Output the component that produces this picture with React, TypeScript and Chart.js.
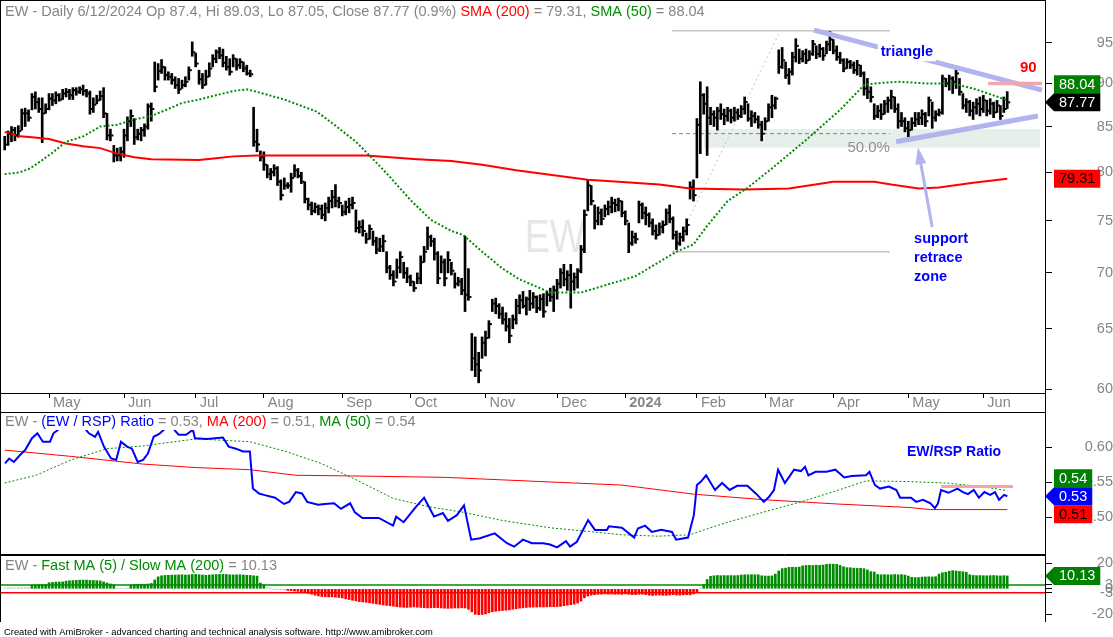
import React, { useEffect, useRef } from 'react';
import { Chart, registerables } from 'chart.js';
Chart.register(...registerables);

const FONT = '"Liberation Sans", Arial, Helvetica, sans-serif';
const GRAY = '#858585';
const GREEN = '#008c00';
const RED = '#ff0000';
const BLUE = '#0000ff';
const LAVENDER = '#b3b3f0';
const PINK = '#f5a3ad';

// ---------- x axis (bar index) ----------
const X_MIN = -1.08;
const X_MAX = 305.08;
const monthTicks = [13, 35, 56, 76, 99, 119, 141, 162, 182, 203, 223, 243, 265, 287];
const monthLabels = ['May', 'Jun', 'Jul', 'Aug', 'Sep', 'Oct', 'Nov', 'Dec', '2024', 'Feb', 'Mar', 'Apr', 'May', 'Jun'];

// ---------- price pane ----------
const priceTicks = [60, 65, 70, 75, 80, 85, 90, 95];
const lows = [
  82.4,82.9,83.3,83.4,83.8,84.6,85.0,85.6,86.9,87.0,86.6,83.2,86.5,86.9,87.4,87.6,87.9,88.1,88.4,88.1,88.1,88.6,88.8,88.6,88.4,86.4,86.6,87.6,88.0,86.0,83.5,83.4,81.1,81.2,81.2,81.6,83.4,85.0,83.0,83.5,83.4,83.9,84.7,85.6,
  89.0,90.4,91.2,90.4,90.4,89.9,89.4,88.8,89.4,89.6,90.4,93.3,92.0,89.9,89.4,89.8,90.8,92.0,92.5,93.0,92.0,91.6,91.0,92.0,91.6,91.8,91.4,91.0,90.8,
  82.8,82.2,81.2,80.2,79.4,79.2,79.6,78.6,77.1,78.2,78.3,77.9,79.5,79.4,78.8,76.8,76.1,75.6,75.8,75.6,75.2,75.0,75.8,76.3,76.4,76.3,75.5,75.6,75.8,76.2,73.9,73.8,73.5,72.8,73.2,72.6,71.8,72.0,72.0,70.0,69.4,68.8,69.5,70.0,69.5,69.1,68.8,68.3,69.0,69.0,71.0,72.2,72.5,71.2,69.0,70.0,68.8,70.0,69.8,68.6,68.8,68.0,66.5,67.5,61.5,61.0,60.5,62.5,62.7,64.2,66.5,66.3,65.9,65.4,64.8,63.8,65.0,65.4,
  66.3,66.8,66.2,66.6,66.8,66.4,66.6,66.0,67.0,67.4,66.5,67.6,68.6,68.8,68.4,66.8,68.4,68.6,70.0,71.9,76.0,76.6,74.2,74.6,74.6,75.4,75.6,75.8,75.9,76.0,75.4,74.6,71.9,72.6,72.8,74.8,75.2,74.6,74.4,73.6,73.2,73.6,73.8,74.6,74.8,73.2,72.2,72.6,73.0,73.6,77.2,77.0,79.4,82.0,86.4,81.8,85.2,85.0,84.6,85.8,85.2,85.6,85.4,85.6,85.8,86.0,86.4,85.6,85.0,85.4,84.8,83.4,84.6,85.6,86.0,87.0,91.2,
  91.8,90.6,89.9,91.0,92.6,92.4,92.6,92.4,92.8,93.4,93.0,93.2,92.8,93.6,94.0,93.6,92.8,92.4,91.4,91.8,91.8,91.2,91.0,90.8,88.6,88.2,87.8,85.8,86.0,85.8,86.4,86.6,87.0,86.6,84.8,85.0,84.4,83.6,84.6,85.0,85.2,85.2,85.0,86.2,84.8,85.6,86.2,86.4,89.6,89.2,88.8,89.4,88.6,87.0,86.6,86.2,85.8,86.4,86.2,86.6,86.2,86.4,86.0,86.6,85.8,86.6,87.05,
];
const highs = [
  83.9,84.5,85.0,84.9,85.1,87.0,87.1,86.9,88.8,89.0,88.3,88.3,87.6,88.8,88.8,89.0,88.8,89.3,89.4,89.3,89.5,89.5,89.6,89.8,89.3,89.1,88.3,88.6,89.1,89.5,86.5,84.7,82.9,82.6,82.7,84.7,86.1,86.9,85.9,84.7,84.9,85.3,87.6,87.7,
  92.6,92.4,92.9,92.0,91.4,91.2,90.8,90.6,90.4,90.8,92.0,95.1,93.7,91.6,91.2,91.6,92.5,93.5,94.1,94.4,94.2,93.3,93.0,93.5,93.0,93.0,92.6,92.2,91.6,
  87.2,84.7,82.3,82.2,80.8,80.4,80.8,80.6,79.2,79.4,78.9,79.9,80.8,80.4,80.0,79.0,77.3,76.9,76.8,76.6,76.6,76.8,77.4,78.1,78.7,77.4,76.6,77.0,77.3,77.4,76.1,75.0,75.1,73.8,74.6,74.0,73.4,73.3,73.6,72.0,70.7,70.2,71.3,72.0,71.0,70.5,69.8,69.2,70.0,71.6,72.5,74.4,73.6,73.3,72.0,71.6,71.3,72.0,71.0,70.0,69.6,69.5,73.5,70.4,64.6,64.3,63.0,64.3,64.8,65.7,67.6,67.7,67.2,66.9,66.4,65.9,66.2,67.6,
  68.0,68.3,67.8,68.4,68.2,67.9,68.0,68.1,68.3,68.6,68.8,69.4,70.4,70.8,70.2,70.8,70.0,70.4,72.6,76.1,79.2,78.6,76.6,76.4,76.2,76.6,77.0,77.4,77.2,77.3,77.0,76.0,74.8,74.0,73.8,77.0,76.8,76.4,75.8,75.2,74.6,74.8,75.0,76.2,76.6,75.4,74.0,73.8,74.4,75.2,79.0,79.2,85.9,90.2,88.8,89.6,87.2,86.8,87.2,87.6,87.0,87.2,87.0,87.2,87.0,87.4,88.4,87.6,86.8,86.6,86.2,85.6,86.0,87.6,88.6,88.4,94.1,
  94.4,92.6,91.8,93.8,95.5,94.2,94.0,94.2,94.0,95.3,94.6,94.8,94.4,95.2,96.4,95.4,94.6,93.8,93.0,93.0,92.8,92.6,92.8,92.2,91.4,90.6,89.6,87.6,87.4,87.6,88.0,88.4,89.2,88.4,87.6,86.6,86.0,85.6,86.0,86.6,86.6,86.9,86.6,88.4,87.8,86.8,87.0,91.0,90.6,91.0,90.8,92.0,90.6,88.8,88.2,88.0,87.8,88.2,88.4,88.6,88.0,88.2,87.8,88.0,87.4,88.4,89.03,
];
const closes = [
  83.0,84.2,84.6,84.0,84.5,86.5,86.5,86.0,88.4,87.8,87.0,86.5,87.0,88.2,88.0,88.6,88.1,88.8,89.0,88.6,89.2,89.0,89.3,89.1,88.8,87.0,87.5,88.0,88.5,86.5,84.0,84.0,81.8,81.8,82.2,84.0,85.6,86.2,83.8,84.2,84.6,85.0,87.3,87.0,
  89.6,91.5,92.0,91.0,90.8,90.4,89.8,89.3,89.8,90.2,91.6,93.8,92.4,90.5,89.8,90.8,91.8,93.0,93.8,93.4,92.5,92.0,91.4,93.0,92.2,92.6,91.8,91.2,91.1,
  83.3,83.0,81.6,80.8,79.8,80.0,80.4,79.0,77.6,78.6,78.6,79.4,80.2,79.6,79.0,77.2,76.6,76.0,76.4,76.2,75.6,76.3,77.0,77.4,77.0,76.8,75.9,76.4,76.6,76.8,74.3,74.4,74.0,73.2,74.2,73.0,72.2,72.5,73.0,70.5,69.8,69.2,70.5,71.5,70.0,69.6,69.2,68.6,69.5,71.0,72.0,73.4,73.0,71.8,69.5,71.0,69.5,71.2,70.2,69.0,69.2,68.4,68.0,67.8,62.5,62.0,61.5,63.8,64.2,65.4,67.2,67.0,66.3,65.8,65.2,64.4,65.8,67.0,
  67.5,67.0,67.6,67.2,67.8,66.8,67.6,66.5,68.0,67.8,68.4,69.0,70.0,69.4,69.8,69.2,69.6,70.2,72.2,75.6,78.6,77.0,75.0,75.8,75.2,76.2,76.4,76.8,76.6,77.0,75.8,75.0,72.8,73.4,73.2,76.6,75.8,75.6,74.8,74.0,73.6,74.4,74.6,75.8,75.2,73.6,72.8,73.4,74.0,74.6,78.4,77.6,85.2,88.6,87.6,86.0,86.4,86.0,86.8,86.4,86.2,86.8,86.0,86.6,86.2,87.0,87.8,85.9,86.2,85.8,85.2,84.2,85.6,87.2,87.4,88.2,92.0,
  92.8,91.0,91.4,93.2,94.6,93.0,93.6,92.8,93.6,94.8,93.6,94.2,93.4,94.8,95.4,94.0,93.2,92.8,91.8,92.6,92.2,91.6,92.2,91.2,89.4,89.0,88.4,86.2,86.8,86.4,87.6,88.0,88.4,87.0,85.6,85.6,84.8,84.6,85.4,85.8,86.0,86.4,85.6,88.0,86.0,86.4,86.6,90.6,90.0,90.6,90.2,91.2,89.0,87.4,87.8,86.8,87.2,87.6,87.0,88.0,86.8,87.6,86.6,87.4,86.2,87.0,87.77,
];
// [bar index, value]
const sma200Pts = [[0,84.4],[4.5,83.9],[8,83.8],[13,83.6],[18,83.1],[23,82.8],[28,82.6],[33,82.0],[38,81.6],[43,81.4],[57,81.3],[62,81.5],[67,81.7],[74,81.8],[99,81.8],[106,81.8],[121,81.4],[131,81.2],[140,80.8],[150,80.2],[171,79.2],[180,79.0],[192,78.7],[201,78.3],[217,78.2],[230,78.3],[243,79.0],[255,79.0],[260,78.7],[268,78.3],[274,78.4],[284,78.9],[294,79.31]];
const sma50Pts = [[0,79.8],[4.5,80.0],[7.4,80.4],[11,81.3],[14,82.1],[18,83.3],[23,83.9],[28,85.0],[33,85.2],[38,85.8],[43,86.2],[48,87.0],[52,87.7],[57,88.1],[62,88.6],[67,89.1],[71,89.3],[74,89.0],[82,88.1],[91.5,86.7],[97,85.1],[103,83.3],[107,81.8],[113,79.5],[119,77.1],[125,75.1],[131,74.0],[134.5,73.6],[140,72.0],[146,70.4],[151,69.4],[160,68.2],[169,68.2],[175.5,68.8],[185,69.7],[197,72.0],[202,72.7],[206,74.5],[212,77.0],[218,78.4],[225,80.4],[235,83.5],[245,86.9],[252,89.8],[255,90.0],[262,90.2],[270.5,90.0],[278,90.0],[284,89.4],[294,88.04]];

// annotations (bar index, price)
const retraceHigh = 96.5;
const retraceLow = 72.0;
const retraceMid = 84.2;
const retraceSpan = [195.7, 259.6];
const retraceDiag = [[196, 72.0], [227.4, 96.5]];
const zoneSpan = [205.1, 303.6];
const zoneRange = [82.65, 84.7];
const triUpper = [[237.3, 96.6], [304.2, 89.2]];
const triLower = [[261.4, 83.3], [303.0, 86.2]];
const arrowFrom = [272.0, 74.4];
const arrowTo = [267.8, 82.7];
const level90 = 90;
const level90Span = [288.4, 304.2];
const triangleLabel = [264.6, 93.8];
const supportLabel = [266.7, 73.2];
const label90 = [300.2, 91.9];
const label50 = [259.6, 82.6];
const watermarkPos = [161.4, 72.0];

// ---------- ratio pane ----------
const ratioTicks = [0.5, 0.55, 0.6];
const ratioPts = [[0.1,0.577],[1.3,0.584],[2.7,0.579],[4.5,0.589],[6,0.596],[8,0.613],[9.6,0.620],[11.2,0.608],[13.3,0.608],[14.3,0.620],[16.5,0.628],[19.2,0.632],[22.1,0.635],[24.7,0.620],[26.5,0.615],[27.4,0.622],[29.1,0.601],[31.2,0.584],[32.7,0.582],[34.1,0.608],[35.9,0.601],[37.3,0.598],[39,0.579],[40.6,0.582],[42,0.591],[43.7,0.615],[45.3,0.619],[46.7,0.625],[48.5,0.632],[51,0.618],[53.2,0.618],[55.2,0.625],[55.8,0.613],[59.3,0.612],[64,0.614],[65.7,0.601],[67.8,0.598],[69.9,0.594],[71.9,0.594],[72.8,0.541],[74.6,0.534],[76,0.532],[79.3,0.528],[81.9,0.519],[83.4,0.522],[85.4,0.536],[87.2,0.534],[88.7,0.522],[91.9,0.518],[93.9,0.519],[96.6,0.520],[98.6,0.512],[101.3,0.520],[102.7,0.507],[104.9,0.499],[109.7,0.499],[113.9,0.488],[114.8,0.501],[117,0.493],[120.6,0.515],[123,0.528],[125.9,0.501],[128.5,0.506],[130,0.495],[132.6,0.503],[134.7,0.517],[136.8,0.468],[139.4,0.470],[143.7,0.477],[147.3,0.463],[149.4,0.458],[152,0.468],[154.6,0.463],[157.9,0.463],[159.9,0.461],[162,0.457],[164.6,0.466],[165.8,0.458],[167.8,0.465],[171.1,0.496],[173.1,0.482],[176.6,0.482],[177.2,0.487],[181,0.485],[184.6,0.471],[185.7,0.484],[187.8,0.488],[189.8,0.479],[192.5,0.482],[195.7,0.479],[196.9,0.468],[200.4,0.471],[202.1,0.503],[203,0.546],[204.2,0.551],[205.7,0.560],[208.3,0.539],[210.4,0.549],[212.6,0.539],[214.8,0.545],[217.8,0.545],[220.5,0.533],[222.6,0.522],[224.1,0.529],[225.6,0.539],[226.8,0.568],[228.8,0.549],[231.5,0.568],[233.5,0.566],[234.7,0.572],[235.7,0.560],[237.8,0.565],[241,0.565],[243.6,0.568],[246.2,0.557],[248.4,0.559],[252.6,0.560],[253.6,0.565],[255.2,0.546],[256.7,0.541],[259.3,0.544],[261.5,0.539],[262.6,0.528],[265.8,0.528],[267.3,0.522],[269.3,0.525],[271.5,0.520],[272.8,0.513],[273.7,0.520],[274.6,0.539],[276.8,0.535],[279.4,0.541],[281,0.536],[282.5,0.533],[284.2,0.539],[285.7,0.528],[287.3,0.536],[289,0.532],[290.4,0.536],[291.6,0.525],[293.1,0.532],[294,0.530]];
const ratioMa200Pts = [[0,0.596],[19.5,0.587],[40.6,0.576],[56.1,0.571],[71.9,0.568],[85.4,0.560],[103.3,0.559],[129.4,0.557],[162,0.550],[181,0.546],[202.1,0.533],[223,0.525],[244,0.519],[265.2,0.514],[271.4,0.511],[294,0.511]];
const ratioMa50Pts = [[0,0.549],[9.2,0.560],[19.5,0.582],[30,0.598],[40.6,0.602],[56.1,0.612],[71.9,0.608],[82.5,0.594],[92.8,0.577],[103.3,0.553],[113.9,0.527],[124.4,0.515],[134.7,0.507],[145.3,0.496],[159.9,0.485],[170.5,0.480],[181,0.475],[191.6,0.473],[201,0.475],[205.1,0.482],[212.7,0.494],[223,0.508],[233.5,0.522],[244,0.538],[252.6,0.552],[265.2,0.551],[275.8,0.549],[286.3,0.544],[294,0.538]];
const ratioLevel = 0.544;
const ratioLevelSpan = [274.6, 295.7];
const ratioLabelPos = [264.6, 0.5933];

// ---------- fast/slow MA histogram ----------
const histTicks = [-20, -3, 0, 3, 20];
const histLevels = [3, -3];
const hist = [
  0.6,0.8,0.7,0.5,0.8,0.7,0.9,0.8,
  3.0,3.2,3.3,3.3,3.4,
  4.8,5.0,5.3,5.3,5.4,
  6.0,6.3,6.5,6.6,6.8,6.9,6.8,6.6,6.5,6.4,6.2,
  5.4,4.6,3.8,3.2,
  0.6,0.5,0.4,0.7,
  3.0,3.3,3.5,3.6,3.6,3.8,4.2,7.0,
  9.4,
  10.2,10.5,10.6,10.8,10.8,10.9,11.0,10.8,10.9,11.2,11.3,11.0,10.8,10.6,10.8,11.0,11.2,11.3,11.4,11.2,11.0,10.9,11.0,11.0,10.8,10.6,10.5,10.2,10.0,
  4.5,3.2,
  0.8,0.6,-0.5,-0.6,-0.8,-0.9,
  -1.2,-1.5,-1.8,-2.0,-2.6,-3.0,
  -3.6,-4.2,-5.0,-5.6,
  -6.0,-6.2,-6.4,-6.3,-6.5,-6.8,-7.2,-7.8,-8.4,-9.0,-9.5,
  -10.0,-10.3,-10.6,-11.0,-11.4,-11.8,-12.2,-12.6,-13.0,-13.3,-13.6,
  -14.0,-14.3,-14.5,-14.6,-14.4,-14.2,-14.4,-14.6,-14.8,-15.0,-14.9,-14.7,-14.8,-15.0,-15.2,-15.3,-15.2,-15.0,-15.1,-14.9,-15.0,
  -16.0,-18.0,
  -20.0,-20.3,-20.1,-19.6,
  -18.8,-18.0,-17.6,-17.2,-17.0,-16.8,-16.5,-16.0,
  -15.6,-15.2,-14.9,-14.6,-14.4,-14.3,-14.3,-14.2,-14.2,-14.1,-14.0,-14.0,-13.9,-13.8,
  -13.2,-12.8,-12.4,-12.0,-11.2,
  -9.7,
  -7.0,
  -5.6,-5.0,-4.6,-4.3,-4.2,-4.0,-4.2,-4.1,-4.3,-4.2,-4.4,-4.0,-4.3,-4.6,-4.5,-4.3,-4.2,-4.6,-5.0,-5.2,-5.0,-4.8,-5.1,-5.2,-4.8,-4.6,-4.9,-5.0,-4.7,-4.6,-4.8,-4.0,
  -3.0,0.6,
  3.3,7.3,9.8,
  10.2,10.4,10.3,10.4,10.3,10.4,10.3,10.4,
  10.8,11.0,11.0,11.1,11.0,11.0,
  10.2,10.0,10.0,10.1,
  11.5,14.0,15.8,16.2,
  16.8,16.9,16.8,17.0,
  18.0,18.3,18.4,18.3,18.5,18.4,18.6,
  19.2,19.4,19.3,19.2,
  18.3,17.3,16.6,16.5,
  16.2,16.0,16.1,15.8,
  14.8,13.5,13.2,
  11.2,11.0,11.1,11.0,11.0,11.2,11.0,11.1,10.8,
  10.0,
  9.0,8.8,8.8,
  9.2,9.3,9.4,9.3,9.5,
  11.5,12.6,13.0,
  13.8,14.2,14.0,
  13.6,13.4,13.0,
  11.0,10.5,10.3,10.4,10.3,10.2,10.3,10.4,10.2,10.1,10.3,10.13,
];

// ---------- helpers ----------
const pts = (a: number[][]) => a.map(([x, y]) => ({ x, y }));
const f = (size: number, weight = 'normal') => `${weight} ${size}px ${FONT}`;

function drawTitle(ctx: CanvasRenderingContext2D, x: number, y: number, parts: [string, string][]) {
  ctx.save();
  ctx.font = f(14.5);
  ctx.textBaseline = 'middle';
  ctx.textAlign = 'left';
  let cx = x;
  for (const [t, c] of parts) {
    const w = ctx.measureText(t).width;
    ctx.fillStyle = '#fff';
    ctx.fillRect(cx, y - 8, w, 16);
    ctx.fillStyle = c;
    ctx.fillText(t, cx, y);
    cx += w;
  }
  ctx.restore();
}

const BOX_H = 18;
function drawBox(ctx: CanvasRenderingContext2D, cy: number, text: string, bg: string, fg: string, arrow: boolean) {
  ctx.save();
  ctx.font = f(14.5);
  const w = ctx.measureText(text).width + 10;
  const x0 = 1054;
  ctx.fillStyle = bg;
  ctx.beginPath();
  if (arrow) {
    ctx.moveTo(1045, cy);
    ctx.lineTo(x0, cy - BOX_H / 2);
  } else ctx.moveTo(x0, cy - BOX_H / 2);
  ctx.lineTo(x0 + w, cy - BOX_H / 2);
  ctx.lineTo(x0 + w, cy + BOX_H / 2);
  ctx.lineTo(x0, cy + BOX_H / 2);
  ctx.closePath();
  ctx.fill();
  ctx.fillStyle = fg;
  ctx.textAlign = 'center';
  ctx.textBaseline = 'middle';
  ctx.fillText(text, x0 + w / 2, cy + 0.5);
  ctx.restore();
}
type BoxSpec = { v: number; text: string; bg: string; fg: string; arrow: boolean };
function drawBoxes(ctx: CanvasRenderingContext2D, ys: any, main: BoxSpec, others: BoxSpec[]) {
  const my = ys.getPixelForValue(main.v);
  const list = others.map((o) => {
    let y = ys.getPixelForValue(o.v);
    if (Math.abs(y - my) < BOX_H) y = y < my ? my - BOX_H : my + BOX_H;
    return { ...o, y };
  });
  list.forEach((b) => drawBox(ctx, b.y, b.text, b.bg, b.fg, b.arrow));
  drawBox(ctx, my, main.text, main.bg, main.fg, main.arrow);
}

function rightAxis(type: string, min: number, max: number, ticks: number[], fmt: (v: number) => string, padding: number) {
  return {
    type,
    position: 'right',
    min,
    max,
    afterBuildTicks: (s: any) => {
      s.ticks = ticks.map((v) => ({ value: v }));
    },
    afterFit: (s: any) => {
      s.width = 68;
      s.paddingTop = 0;
      s.paddingBottom = 0;
    },
    ticks: {
      autoSkip: false,
      crossAlign: 'far',
      padding,
      color: GRAY,
      font: { family: FONT, size: 14.5 },
      callback: (v: any) => fmt(Number(v)),
    },
    grid: { drawOnChartArea: false, drawTicks: true, tickLength: 7, color: '#000', tickColor: '#000', lineWidth: 1 },
    border: { display: false },
  };
}
const hiddenX = { type: 'linear', min: X_MIN, max: X_MAX, display: false, offset: false };
const lineDs = (data: any[], color: string, width: number, dash: number[] = [], order = 0) => ({
  type: 'line',
  data,
  borderColor: color,
  borderWidth: width,
  borderDash: dash,
  pointRadius: 0,
  tension: 0,
  fill: false,
  order,
});

function makePrice(canvas: HTMLCanvasElement) {
  const bars = lows.map((l, i) => ({ x: i, y: [l, highs[i]] }));
  const annot = {
    id: 'priceAnnot',
    beforeDatasetsDraw(chart: any) {
      const { ctx, chartArea: a } = chart;
      const X = (v: number) => chart.scales.x.getPixelForValue(v);
      const Y = (v: number) => chart.scales.y.getPixelForValue(v);
      ctx.save();
      ctx.beginPath();
      ctx.rect(a.left, a.top, a.right - a.left, a.bottom - a.top);
      ctx.clip();
      // watermark
      ctx.save();
      ctx.translate(X(watermarkPos[0]), Y(watermarkPos[1]));
      ctx.scale(0.82, 1);
      ctx.font = f(46);
      ctx.fillStyle = '#e6e6e6';
      ctx.textAlign = 'center';
      ctx.textBaseline = 'alphabetic';
      ctx.fillText('EW', 0, 0);
      ctx.restore();
      // retrace zone
      ctx.fillStyle = '#e6efe9';
      ctx.fillRect(X(zoneSpan[0]), Y(zoneRange[1]), X(zoneSpan[1]) - X(zoneSpan[0]), Y(zoneRange[0]) - Y(zoneRange[1]));
      // retracement lines
      ctx.strokeStyle = '#c4c4c4';
      ctx.lineWidth = 1.5;
      for (const lv of [retraceHigh, retraceLow]) {
        ctx.beginPath();
        ctx.moveTo(X(retraceSpan[0]), Y(lv));
        ctx.lineTo(X(retraceSpan[1]), Y(lv));
        ctx.stroke();
      }
      ctx.strokeStyle = '#808080';
      ctx.lineWidth = 1;
      ctx.setLineDash([4, 3]);
      ctx.beginPath();
      ctx.moveTo(X(retraceSpan[0]), Y(retraceMid));
      ctx.lineTo(X(retraceSpan[1]), Y(retraceMid));
      ctx.stroke();
      ctx.strokeStyle = '#c0c0c0';
      ctx.setLineDash([2, 3]);
      ctx.beginPath();
      ctx.moveTo(X(retraceDiag[0][0]), Y(retraceDiag[0][1]));
      ctx.lineTo(X(retraceDiag[1][0]), Y(retraceDiag[1][1]));
      ctx.stroke();
      ctx.setLineDash([]);
      ctx.font = f(15);
      ctx.fillStyle = '#909090';
      ctx.textAlign = 'right';
      ctx.textBaseline = 'middle';
      ctx.fillText('50.0%', X(label50[0]), Y(label50[1]));
      ctx.restore();
    },
    afterDatasetsDraw(chart: any) {
      const { ctx, chartArea: a } = chart;
      const X = (v: number) => chart.scales.x.getPixelForValue(v);
      const Y = (v: number) => chart.scales.y.getPixelForValue(v);
      // close ticks
      const meta = chart.getDatasetMeta(0);
      ctx.save();
      ctx.fillStyle = '#000';
      meta.data.forEach((el: any, i: number) => {
        const yc = Y(closes[i]);
        ctx.fillRect(el.x + 1, yc - 1, 2, 2);
      });
      ctx.beginPath();
      ctx.rect(a.left, a.top, a.right - a.left, a.bottom - a.top);
      ctx.clip();
      // triangle
      ctx.strokeStyle = LAVENDER;
      ctx.lineWidth = 5;
      for (const seg of [triUpper, triLower]) {
        ctx.beginPath();
        ctx.moveTo(X(seg[0][0]), Y(seg[0][1]));
        ctx.lineTo(X(seg[1][0]), Y(seg[1][1]));
        ctx.stroke();
      }
      // arrow
      const ax0 = X(arrowFrom[0]), ay0 = Y(arrowFrom[1]), ax1 = X(arrowTo[0]), ay1 = Y(arrowTo[1]);
      const ang = Math.atan2(ay1 - ay0, ax1 - ax0);
      const hl = 17, hw = 5.5;
      const bx = ax1 - hl * Math.cos(ang), by = ay1 - hl * Math.sin(ang);
      ctx.lineWidth = 3;
      ctx.beginPath();
      ctx.moveTo(ax0, ay0);
      ctx.lineTo(bx, by);
      ctx.stroke();
      ctx.fillStyle = LAVENDER;
      ctx.beginPath();
      ctx.moveTo(ax1, ay1);
      ctx.lineTo(bx + hw * Math.sin(ang), by - hw * Math.cos(ang));
      ctx.lineTo(bx - hw * Math.sin(ang), by + hw * Math.cos(ang));
      ctx.closePath();
      ctx.fill();
      // 90 level
      ctx.strokeStyle = PINK;
      ctx.lineWidth = 3.5;
      ctx.beginPath();
      ctx.moveTo(X(level90Span[0]), Y(level90));
      ctx.lineTo(X(level90Span[1]), Y(level90));
      ctx.stroke();
      ctx.restore();
      // texts
      ctx.save();
      ctx.font = f(14.5, 'bold');
      ctx.textBaseline = 'middle';
      ctx.textAlign = 'center';
      const tx = X(triangleLabel[0]), ty = Y(triangleLabel[1]);
      const tw = ctx.measureText('triangle').width;
      ctx.fillStyle = '#fff';
      ctx.fillRect(tx - tw / 2 - 3, ty - 9, tw + 6, 18);
      ctx.fillStyle = BLUE;
      ctx.fillText('triangle', tx, ty);
      ctx.textAlign = 'left';
      const sx = X(supportLabel[0]), sy = Y(supportLabel[1]);
      ['support', 'retrace', 'zone'].forEach((t, k) => ctx.fillText(t, sx, sy + k * 19));
      ctx.font = f(15, 'bold');
      ctx.fillStyle = RED;
      ctx.textAlign = 'center';
      ctx.fillText('90', X(label90[0]), Y(label90[1]));
      ctx.restore();
    },
    afterDraw(chart: any) {
      const { ctx, chartArea: a } = chart;
      ctx.save();
      ctx.strokeStyle = '#000';
      ctx.lineWidth = 1;
      ctx.strokeRect(a.left - 0.5, a.top - 0.5, a.right - a.left + 1, a.bottom - a.top + 1);
      ctx.restore();
      drawTitle(ctx, 5, 12, [
        ['EW - Daily 6/12/2024 Op 87.4, Hi 89.03, Lo 87.05, Close 87.77 (0.9%) ', GRAY],
        ['SMA (200)', RED],
        [' = 79.31, ', GRAY],
        ['SMA (50)', GREEN],
        [' = 88.04', GRAY],
      ]);
      const ys = chart.scales.y;
      drawBoxes(ctx, ys,
        { v: closes[closes.length - 1], text: closes[closes.length - 1].toFixed(2), bg: '#000', fg: '#fff', arrow: true },
        [
          { v: sma50Pts[sma50Pts.length - 1][1], text: sma50Pts[sma50Pts.length - 1][1].toFixed(2), bg: '#008000', fg: '#fff', arrow: false },
          { v: sma200Pts[sma200Pts.length - 1][1], text: sma200Pts[sma200Pts.length - 1][1].toFixed(2), bg: RED, fg: '#000', arrow: false },
        ]);
    },
  };
  return new Chart(canvas, {
    type: 'bar',
    data: {
      datasets: [
        { type: 'bar', data: bars, backgroundColor: '#000', barThickness: 2, grouped: false, order: 3 } as any,
        lineDs(pts(sma200Pts), RED, 2, [], 1),
        lineDs(pts(sma50Pts), GREEN, 2, [2, 2], 0),
      ],
    },
    options: {
      responsive: false,
      animation: false,
      devicePixelRatio: 1,
      events: [],
      layout: { padding: { left: 1, top: 1, right: 0, bottom: 637 - 415 } },
      plugins: { legend: { display: false }, tooltip: { enabled: false } },
      scales: {
        x: {
          type: 'linear',
          min: X_MIN,
          max: X_MAX,
          offset: false,
          afterBuildTicks: (s: any) => {
            s.ticks = monthTicks.map((v) => ({ value: v }));
          },
          afterFit: (s: any) => {
            s.height = 22;
            s.paddingLeft = 0;
            s.paddingRight = 0;
          },
          ticks: {
            autoSkip: false,
            maxRotation: 0,
            minRotation: 0,
            align: 'start',
            labelOffset: 4,
            padding: -4,
            color: GRAY,
            font: (c: any) => ({ family: FONT, size: 14.5, weight: c.tick && c.tick.value === 182 ? 'bold' : 'normal' }),
            callback: (_v: any, i: number) => monthLabels[i],
          },
          grid: { drawOnChartArea: false, drawTicks: true, tickLength: 5, color: '#000', tickColor: '#000', offset: false },
          border: { display: false },
        },
        y: rightAxis('logarithmic', 59.69, 100.4, priceTicks, (v) => String(v), 41),
      } as any,
    },
    plugins: [annot],
  } as any);
}

function makeRatio(canvas: HTMLCanvasElement) {
  const annot = {
    id: 'ratioAnnot',
    afterDatasetsDraw(chart: any) {
      const { ctx } = chart;
      const X = (v: number) => chart.scales.x.getPixelForValue(v);
      const Y = (v: number) => chart.scales.y.getPixelForValue(v);
      ctx.save();
      ctx.strokeStyle = PINK;
      ctx.lineWidth = 3;
      ctx.beginPath();
      ctx.moveTo(X(ratioLevelSpan[0]), Y(ratioLevel));
      ctx.lineTo(X(ratioLevelSpan[1]), Y(ratioLevel));
      ctx.stroke();
      ctx.font = f(14, 'bold');
      ctx.fillStyle = BLUE;
      ctx.textAlign = 'left';
      ctx.textBaseline = 'middle';
      ctx.fillText('EW/RSP Ratio', X(ratioLabelPos[0]), Y(ratioLabelPos[1]));
      ctx.restore();
    },
    afterDraw(chart: any) {
      const { ctx, chartArea: a } = chart;
      ctx.save();
      ctx.strokeStyle = '#000';
      ctx.lineWidth = 1;
      ctx.strokeRect(a.left - 0.5, a.top - 0.5, a.right - a.left + 1, a.bottom - a.top + 1);
      ctx.restore();
      drawTitle(ctx, 5, 422, [
        ['EW - ', GRAY],
        ['(EW / RSP) Ratio', BLUE],
        [' = 0.53, ', GRAY],
        ['MA (200)', RED],
        [' = 0.51, ', GRAY],
        ['MA (50)', GREEN],
        [' = 0.54', GRAY],
      ]);
      const ys = chart.scales.y;
      const last = (a2: number[][]) => a2[a2.length - 1][1];
      drawBoxes(ctx, ys,
        { v: last(ratioPts), text: last(ratioPts).toFixed(2), bg: BLUE, fg: '#fff', arrow: true },
        [
          { v: last(ratioMa50Pts), text: last(ratioMa50Pts).toFixed(2), bg: '#008000', fg: '#fff', arrow: false },
          { v: last(ratioMa200Pts), text: last(ratioMa200Pts).toFixed(2), bg: RED, fg: '#000', arrow: false },
        ]);
    },
  };
  return new Chart(canvas, {
    type: 'line',
    data: {
      datasets: [
        lineDs(pts(ratioMa200Pts), RED, 1, [], 2),
        lineDs(pts(ratioMa50Pts), GREEN, 1, [2, 2], 1),
        lineDs(pts(ratioPts), BLUE, 2, [], 0),
      ],
    },
    options: {
      responsive: false,
      animation: false,
      devicePixelRatio: 1,
      events: [],
      layout: { padding: { left: 1, top: 413, right: 0, bottom: 637 - 555 } },
      plugins: { legend: { display: false }, tooltip: { enabled: false } },
      scales: {
        x: hiddenX,
        y: rightAxis('linear', 0.4461, 0.649, ratioTicks, (v) => v.toFixed(2), 29),
      } as any,
    },
    plugins: [annot],
  } as any);
}

function makeHist(canvas: HTMLCanvasElement) {
  const annot = {
    id: 'histAnnot',
    afterDatasetsDraw(chart: any) {
      const { ctx, chartArea: a } = chart;
      const Y = (v: number) => chart.scales.y.getPixelForValue(v);
      ctx.save();
      ctx.lineWidth = 1.5;
      histLevels.forEach((lv) => {
        ctx.strokeStyle = lv > 0 ? GREEN : RED;
        ctx.beginPath();
        ctx.moveTo(a.left, Y(lv));
        ctx.lineTo(a.right, Y(lv));
        ctx.stroke();
      });
      ctx.restore();
    },
    afterDraw(chart: any) {
      const { ctx, chartArea: a } = chart;
      ctx.save();
      ctx.strokeStyle = '#000';
      ctx.lineWidth = 1;
      ctx.beginPath();
      ctx.moveTo(a.left - 0.5, 0);
      ctx.lineTo(a.left - 0.5, a.bottom);
      ctx.moveTo(a.right + 0.5, 0);
      ctx.lineTo(a.right + 0.5, a.bottom);
      ctx.moveTo(a.left - 0.5, a.top - 0.5);
      ctx.lineTo(a.right + 0.5, a.top - 0.5);
      ctx.stroke();
      ctx.font = f(9.4);
      ctx.fillStyle = '#000';
      ctx.textAlign = 'left';
      ctx.textBaseline = 'middle';
      ctx.fillText('Created with AmiBroker - advanced charting and technical analysis software. http://www.amibroker.com', 4, 632);
      ctx.restore();
      drawTitle(ctx, 5, 566, [
        ['EW - ', GRAY],
        ['Fast MA (5) / Slow MA (200)', GREEN],
        [' = 10.13', GRAY],
      ]);
      const v = hist[hist.length - 1];
      drawBox(ctx, chart.scales.y.getPixelForValue(v), v.toFixed(2), '#008000', '#fff', true);
    },
  };
  return new Chart(canvas, {
    type: 'bar',
    data: {
      datasets: [
        {
          type: 'bar',
          data: hist.map((v, i) => ({ x: i, y: v })),
          barThickness: 2,
          grouped: false,
          backgroundColor: (c: any) => {
            const v = c.raw ? c.raw.y : 0;
            return Math.abs(v) < 1 ? '#c0c0c0' : v > 0 ? GREEN : RED;
          },
        } as any,
      ],
    },
    options: {
      responsive: false,
      animation: false,
      devicePixelRatio: 1,
      events: [],
      layout: { padding: { left: 1, top: 555, right: 0, bottom: 637 - 622 } },
      plugins: { legend: { display: false }, tooltip: { enabled: false } },
      scales: {
        x: hiddenX,
        y: rightAxis('linear', -26.0, 26.5, histTicks, (v) => String(v), 36),
      } as any,
    },
    plugins: [annot],
  } as any);
}

export default function App() {
  const r1 = useRef<HTMLCanvasElement>(null);
  const r2 = useRef<HTMLCanvasElement>(null);
  const r3 = useRef<HTMLCanvasElement>(null);
  useEffect(() => {
    Chart.defaults.font.family = FONT;
    const charts = [makePrice(r1.current!), makeRatio(r2.current!), makeHist(r3.current!)];
    return () => charts.forEach((c) => c.destroy());
  }, []);
  const cs: React.CSSProperties = { position: 'absolute', left: 0, top: 0, width: 1113, height: 637 };
  return (
    <div style={{ position: 'absolute', left: 0, top: 0, width: 1113, height: 637, background: '#fff', overflow: 'hidden' }}>
      <canvas ref={r1} width={1113} height={637} style={cs} />
      <canvas ref={r2} width={1113} height={637} style={cs} />
      <canvas ref={r3} width={1113} height={637} style={cs} />
    </div>
  );
}
